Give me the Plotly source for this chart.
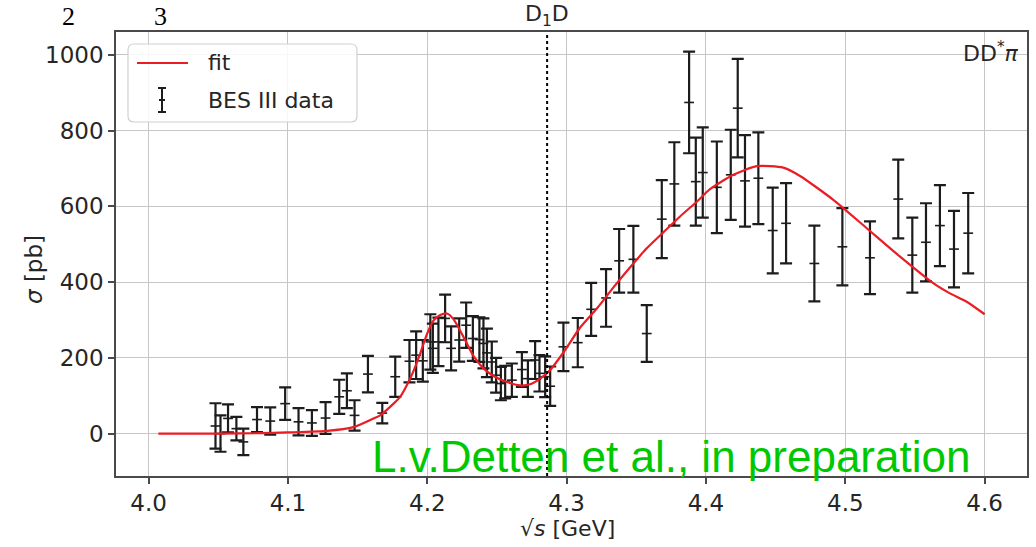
import plotly.graph_objects as go

# ---------------- data ----------------
data_x = [4.048, 4.0516, 4.057, 4.063, 4.068, 4.0778, 4.0873, 4.098, 4.1076, 4.1172,
          4.127, 4.1368, 4.1423, 4.1478, 4.1574, 4.1677, 4.177, 4.1872, 4.192, 4.1968,
          4.2022, 4.204, 4.208, 4.2128, 4.2171, 4.2229, 4.2279, 4.2327, 4.2374, 4.2403,
          4.2428, 4.2463, 4.2494, 4.2528, 4.2559, 4.2607, 4.2679, 4.2722, 4.2774, 4.2805,
          4.2846, 4.2882, 4.2977, 4.308, 4.3176, 4.3283, 4.3377, 4.3479, 4.3575, 4.3683,
          4.3773, 4.3879, 4.3927, 4.3977, 4.4078, 4.4178, 4.4228, 4.428, 4.4376, 4.4479,
          4.4575, 4.4778, 4.4979, 4.5177, 4.538, 4.5481, 4.5579, 4.5679, 4.578, 4.5882]
data_y = [20, 0, 40, 13, -22, 37, 33, 79, 31, 28,
          41, 97, 113, 48, 157, 54, 150, 191, 207, 192,
          242, 225, 242, 304, 225, 247, 286, 251, 248, 238,
          213, 189, 154, 132, 136, 141, 169, 145, 194, 159,
          150, 125, 229, 240, 328, 358, 456, 460, 264, 566,
          659, 874, 665, 689, 650, 683, 859, 667, 674, 536,
          555, 449, 493, 464, 619, 471, 505, 549, 487, 529]
data_err = [60, 48, 37, 31, 35, 33, 36, 43, 36, 34,
            42, 45, 46, 40, 48, 27, 53, 56, 63, 55,
            73, 65, 64, 63, 58, 57, 60, 59, 59, 66,
            64, 54, 46, 44, 43, 44, 46, 48, 50, 48,
            54, 52, 64, 65, 70, 76, 84, 88, 75, 103,
            110, 134, 116, 119, 121, 119, 130, 121, 121, 113,
            106, 100, 102, 96, 104, 99, 103, 107, 101, 106]

fit_x = [4.007, 4.05, 4.08, 4.0993, 4.128, 4.147, 4.1614, 4.1662, 4.1758, 4.1806,
         4.1854, 4.1901, 4.1949, 4.1997, 4.2044, 4.2093, 4.2141, 4.2188, 4.2260, 4.2331,
         4.2403, 4.2475, 4.2571, 4.2666, 4.2738, 4.2810, 4.2882, 4.2977, 4.3097, 4.3217,
         4.3336, 4.3456, 4.3575, 4.3694, 4.3814, 4.3934, 4.4029, 4.4197, 4.4364, 4.4555,
         4.4675, 4.4914, 4.5154, 4.5393, 4.5631, 4.5751, 4.5871, 4.6]
fit_y = [0, 0, 1, 3, 7, 17, 40, 48, 79, 97,
         128, 165, 211, 262, 298, 313, 317, 302, 255, 205,
         172, 152, 136, 127, 130, 145, 168, 214, 280, 330,
         386, 439, 489, 531, 573, 612, 645, 683, 706, 702,
         680, 617, 542, 467, 397, 370, 348, 315]

x_ticks = [4.0, 4.1, 4.2, 4.3, 4.4, 4.5, 4.6]
x_tick_labels = ["4.0", "4.1", "4.2", "4.3", "4.4", "4.5", "4.6"]
y_ticks = [0, 200, 400, 600, 800, 1000]
y_tick_labels = ["0", "200", "400", "600", "800", "1000"]
threshold_x = 4.286

# ---------------- geometry helpers ----------------
W, H = 1036, 547
ML, MR, MT, MB = 116, 9, 32, 71
PW, PH = W - ML - MR, H - MT - MB


def px(p):
    return (p - ML) / PW


def py(p):
    return (H - MB - p) / PH


FONT = "DejaVu Sans"
SERIF = "Liberation Serif"
TXT = "#262626"
SPINE = "#4a4a4a"
GRID = "#c6c6c6"
RED = "#ea1c24"
BLK = "#1c1c1c"

fig = go.Figure()

fig.add_trace(go.Scatter(
    x=data_x, y=data_y, mode="markers", showlegend=False,
    marker=dict(symbol="line-ew", size=7, color=BLK, line=dict(width=1.6, color=BLK)),
    error_y=dict(type="data", array=data_err, visible=True, color=BLK, thickness=2.2, width=6),
))
fig.add_trace(go.Scatter(
    x=fit_x, y=fit_y, mode="lines", showlegend=False,
    line=dict(color=RED, width=2.2, shape="spline", smoothing=0.6),
))

shapes = []
# threshold line
shapes.append(dict(type="line", xref="x", yref="paper", x0=threshold_x, x1=threshold_x,
                   y0=0, y1=1, line=dict(color="black", width=2, dash="dot"), layer="above"))

# manual legend box (rounded)
lx0, lx1, ly0, ly1, r = 128, 357, 44, 122, 6
path = (f"M {px(lx0 + r)},{py(ly0)} L {px(lx1 - r)},{py(ly0)} "
        f"Q {px(lx1)},{py(ly0)} {px(lx1)},{py(ly0 + r)} "
        f"L {px(lx1)},{py(ly1 - r)} Q {px(lx1)},{py(ly1)} {px(lx1 - r)},{py(ly1)} "
        f"L {px(lx0 + r)},{py(ly1)} Q {px(lx0)},{py(ly1)} {px(lx0)},{py(ly1 - r)} "
        f"L {px(lx0)},{py(ly0 + r)} Q {px(lx0)},{py(ly0)} {px(lx0 + r)},{py(ly0)} Z")
shapes.append(dict(type="path", xref="paper", yref="paper", path=path,
                   fillcolor="rgba(255,255,255,0.85)", line=dict(color="#d0d0d0", width=1.2),
                   layer="above"))
shapes.append(dict(type="line", xref="paper", yref="paper", x0=px(137), x1=px(188),
                   y0=py(63), y1=py(63), line=dict(color=RED, width=2.2), layer="above"))
# errorbar glyph
ex, et, eb, ec = 162, 88, 112, 100
for (a, b, c, d) in [(ex, et, ex, eb), (ex - 4, et, ex + 4, et), (ex - 4, eb, ex + 4, eb),
                     (ex - 3, ec, ex + 3, ec)]:
    shapes.append(dict(type="line", xref="paper", yref="paper", x0=px(a), x1=px(c),
                       y0=py(b), y1=py(d), line=dict(color=BLK, width=2), layer="above"))

annotations = [
    dict(text="fit", xref="paper", yref="paper", x=px(206), y=py(63), xanchor="left",
         yanchor="middle", showarrow=False, font=dict(family=FONT, size=22, color=TXT)),
    dict(text="BES III data", xref="paper", yref="paper", x=px(206), y=py(100), xanchor="left",
         yanchor="middle", showarrow=False, font=dict(family=FONT, size=22, color=TXT)),
    dict(text="DD<sup>*</sup><i>π</i>", xref="paper", yref="paper", x=px(1021), y=py(52),
         xanchor="right", yanchor="middle", showarrow=False,
         font=dict(family=FONT, size=22, color=TXT)),
    dict(text="D<sub>1</sub>D", xref="paper", yref="paper", x=px(547), y=py(15),
         xanchor="center", yanchor="middle", showarrow=False,
         font=dict(family=FONT, size=22, color=TXT)),
    dict(text="2", xref="paper", yref="paper", x=px(68), y=py(0), xanchor="center",
         yanchor="top", showarrow=False,
         font=dict(family=SERIF, size=26, color="black")),
    dict(text="3", xref="paper", yref="paper", x=px(160), y=py(0), xanchor="center",
         yanchor="top", showarrow=False,
         font=dict(family=SERIF, size=26, color="black")),
    dict(text="L.v.Detten et al., in preparation", xref="paper", yref="paper", x=px(370),
         y=py(456), xanchor="left", yanchor="middle", showarrow=False,
         font=dict(family="Liberation Sans", size=44, color="#00c800")),
    dict(text="√<i>s</i> [GeV]", xref="paper", yref="paper", x=px(567), y=py(528),
         xanchor="center", yanchor="middle", showarrow=False,
         font=dict(family=FONT, size=22, color=TXT)),
    dict(text="<i>σ</i> [pb]", xref="paper", yref="paper", x=px(34), y=py(270),
         xanchor="center", yanchor="middle", showarrow=False, textangle=-90,
         font=dict(family=FONT, size=23, color=TXT)),
]

axis_common = dict(showgrid=True, gridcolor=GRID, gridwidth=1, showline=True,
                   linecolor=SPINE, linewidth=1.5, mirror=True, ticks="outside",
                   ticklen=6, tickwidth=1.5, tickcolor=SPINE, zeroline=False,
                   tickfont=dict(family=FONT, size=23, color=TXT))

fig.update_layout(
    width=W, height=H,
    margin=dict(l=ML, r=MR, t=MT, b=MB, autoexpand=False),
    paper_bgcolor="white", plot_bgcolor="white",
    xaxis=dict(range=[3.9766, 4.6304], tickvals=x_ticks, ticktext=x_tick_labels, **axis_common),
    yaxis=dict(range=[-112, 1060], tickvals=y_ticks, ticktext=y_tick_labels, **axis_common),
    shapes=shapes, annotations=annotations, showlegend=False,
)

fig.write_html("out.html")
